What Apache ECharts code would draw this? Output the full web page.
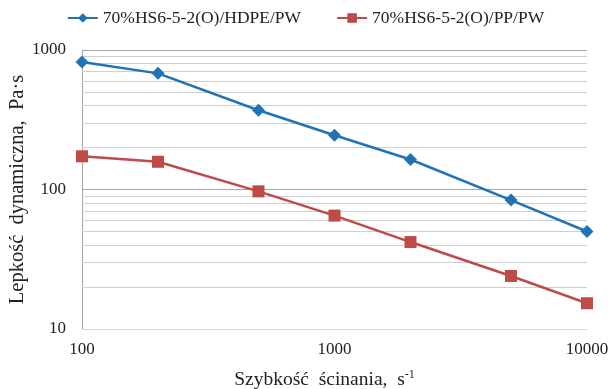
<!DOCTYPE html>
<html><head><meta charset="utf-8">
<script src="https://cdn.jsdelivr.net/npm/echarts@6/dist/echarts.min.js"></script>
<style>html,body{margin:0;padding:0;background:#fff}#c{width:611px;height:389px}</style>
</head><body><div id="c"></div>
<script>
const shearRates = [100, 200, 500, 1000, 2000, 5000, 10000];
const hdpeValues = [820, 680, 370, 245, 164, 84, 50];
const ppValues = [173, 158, 97, 65, 42, 24, 15.3];
const seriesNames = ['70%HS6-5-2(O)/HDPE/PW', '70%HS6-5-2(O)/PP/PW'];
const minorGridValues = [20, 30, 40, 50, 60, 70, 80, 90, 200, 300, 400, 500, 600, 700, 800, 900];

const font = '"Liberation Serif", "Times New Roman", serif';
const chart = echarts.init(document.getElementById('c'), null, {renderer: 'canvas'});
chart.setOption({
  animation: false,
  backgroundColor: '#fff',
  textStyle: {fontFamily: font},
  legend: {
    top: 4, left: 'center',
    itemWidth: 30, itemHeight: 12, itemGap: 35,
    textStyle: {fontFamily: font, fontSize: 17.5, color: '#222'},
    data: seriesNames
  },
  grid: {left: 82, right: 24, top: 50, bottom: 60, containLabel: false, outerBoundsMode: 'none'},
  xAxis: {
    type: 'log', logBase: 10, min: 100, max: 10000,
    axisLine: {show: true, lineStyle: {color: '#d9d9d9', width: 1}},
    axisTick: {show: false},
    splitLine: {show: false},
    axisLabel: {fontFamily: font, fontSize: 17, color: '#222', margin: 12, formatter: v => String(v)},
    name: 'Szybkość  ścinania,  s{sup|-1}',
    nameLocation: 'middle', nameGap: 40, nameMoveOverlap: false,
    nameTextStyle: {fontFamily: font, fontSize: 19.5, color: '#222', padding: [0, 20, 0, 0],
      rich: {sup: {fontFamily: font, fontSize: 12, color: '#222', verticalAlign: 'top', padding: [0, 0, 10, 0]}}}
  },
  yAxis: {
    type: 'log', logBase: 10, min: 10, max: 1000,
    axisLine: {show: true, lineStyle: {color: '#a6a6a6', width: 1}},
    axisTick: {show: false},
    splitLine: {show: true, lineStyle: {color: '#a6a6a6', width: 1}},
    axisLabel: {fontFamily: font, fontSize: 17, color: '#222', margin: 16, formatter: v => String(v)},
    name: 'Lepkość  dynamiczna,  Pa·s',
    nameLocation: 'middle', nameGap: 54, nameRotate: 90, nameMoveOverlap: false,
    nameTextStyle: {fontFamily: font, fontSize: 20.5, color: '#222'}
  },
  series: [
    {
      name: seriesNames[0], type: 'line',
      data: shearRates.map((x, i) => [x, hdpeValues[i]]),
      symbol: 'diamond', symbolSize: 13,
      lineStyle: {color: '#1f74b8', width: 2.5},
      itemStyle: {color: '#1f74b8'},
      z: 5,
      markLine: {
        silent: true, symbol: 'none', label: {show: false},
        lineStyle: {color: '#cfcfcf', width: 1, type: 'solid'},
        data: minorGridValues.map(v => ({yAxis: v})),
        z: 1
      }
    },
    {
      name: seriesNames[1], type: 'line',
      data: shearRates.map((x, i) => [x, ppValues[i]]),
      symbol: 'rect', symbolSize: 12,
      lineStyle: {color: '#be4b48', width: 2.5},
      itemStyle: {color: '#be4b48'},
      z: 5
    }
  ]
});
</script></body></html>
